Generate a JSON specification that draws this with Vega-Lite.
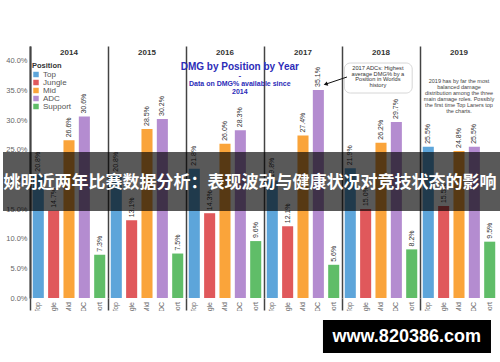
{
  "$schema": "https://vega.github.io/schema/vega-lite/v6.json",
  "width": 468,
  "height": 252,
  "autosize": {"type": "none"},
  "padding": {"left": 30, "top": 46, "right": 2, "bottom": 64},
  "background": "white",
  "config": {
    "view": {"stroke": null},
    "font": "Liberation Sans",
    "axisY": {"labelOverlap": false, "labelFlush": false, "labelBound": false, "tickCount": 9}
  },
  "data": {
    "values": [
      {"year": "2014", "position": "Top", "value": 20.8},
      {"year": "2014", "position": "Jungle", "value": 14.7},
      {"year": "2014", "position": "Mid", "value": 26.6},
      {"year": "2014", "position": "ADC", "value": 30.6},
      {"year": "2014", "position": "Support", "value": 7.3},
      {"year": "2015", "position": "Top", "value": 20.8},
      {"year": "2015", "position": "Jungle", "value": 13.1},
      {"year": "2015", "position": "Mid", "value": 28.5},
      {"year": "2015", "position": "ADC", "value": 30.2},
      {"year": "2015", "position": "Support", "value": 7.5},
      {"year": "2016", "position": "Top", "value": 21.8},
      {"year": "2016", "position": "Jungle", "value": 14.3},
      {"year": "2016", "position": "Mid", "value": 26.0},
      {"year": "2016", "position": "ADC", "value": 28.3},
      {"year": "2016", "position": "Support", "value": 9.6},
      {"year": "2017", "position": "Top", "value": 19.8},
      {"year": "2017", "position": "Jungle", "value": 12.1},
      {"year": "2017", "position": "Mid", "value": 27.4},
      {"year": "2017", "position": "ADC", "value": 35.1},
      {"year": "2017", "position": "Support", "value": 5.6},
      {"year": "2018", "position": "Top", "value": 21.9},
      {"year": "2018", "position": "Jungle", "value": 15.0},
      {"year": "2018", "position": "Mid", "value": 26.2},
      {"year": "2018", "position": "ADC", "value": 29.7},
      {"year": "2018", "position": "Support", "value": 8.2},
      {"year": "2019", "position": "Top", "value": 25.5},
      {"year": "2019", "position": "Jungle", "value": 15.5},
      {"year": "2019", "position": "Mid", "value": 24.8},
      {"year": "2019", "position": "ADC", "value": 25.5},
      {"year": "2019", "position": "Support", "value": 9.5}
    ]
  },
  "layer": [
    {
      "mark": {"type": "bar"},
      "encoding": {
        "x": {
          "field": "year", "type": "nominal",
          "scale": {"paddingInner": 0, "paddingOuter": 0},
          "axis": {"orient": "bottom", "title": null, "labels": false, "domain": false,
                   "ticks": true, "tickSize": 12, "tickColor": "#444", "tickWidth": 1.5,
                   "bandPosition": 0, "grid": true, "gridColor": "#444", "gridWidth": 1.5}
        },
        "xOffset": {
          "field": "position", "type": "nominal",
          "sort": ["Top", "Jungle", "Mid", "ADC", "Support"],
          "scale": {"paddingInner": 0.28, "paddingOuter": 0.18}
        },
        "y": {
          "field": "value", "type": "quantitative",
          "scale": {"domain": [0, 42.5], "nice": false, "zero": false},
          "axis": {"values": [0, 5, 10, 15, 20, 25, 30, 35, 40],
                   "tickCount": 9,
                   "labelExpr": "format(datum.value, '.1f') + '%'",
                   "labelOverlap": false,
                   "title": null, "ticks": false, "grid": false,
                   "domainColor": "#444", "domainWidth": 2,
                   "labelColor": "#666", "labelFontSize": 7.5, "labelPadding": 3}
        },
        "color": {
          "field": "position", "type": "nominal",
          "sort": ["Top", "Jungle", "Mid", "ADC", "Support"],
          "scale": {"domain": ["Top", "Jungle", "Mid", "ADC", "Support"],
                    "range": ["#5DA5DA", "#E0585B", "#FAA43A", "#B48CD0", "#60BD68"]},
          "legend": {"orient": "none", "legendX": 2, "legendY": 16, "title": "Position",
                     "titleFontSize": 7.5, "titleFontWeight": "bold", "titleColor": "#333",
                     "labelFontSize": 8, "labelColor": "#555", "symbolType": "square",
                     "symbolSize": 30, "rowPadding": 0, "titlePadding": 1,
                     "symbolStrokeWidth": 0, "padding": 0, "labelOffset": 3}
        }
      }
    },
    {
      "transform": [{"calculate": "format(datum.value, '.1f') + '%'", "as": "label"}],
      "mark": {"type": "text", "angle": 270, "align": "left", "baseline": "middle",
               "fontSize": 7, "fill": "#333", "yOffset": -3},
      "encoding": {
        "x": {"field": "year", "type": "nominal"},
        "xOffset": {"field": "position", "type": "nominal", "sort": ["Top", "Jungle", "Mid", "ADC", "Support"]},
        "y": {"field": "value", "type": "quantitative"},
        "text": {"field": "label"}
      }
    },
    {
      "mark": {"type": "text", "angle": 270, "align": "right", "baseline": "middle",
               "fontSize": 7, "fill": "#666", "yOffset": 4},
      "encoding": {
        "x": {"field": "year", "type": "nominal"},
        "xOffset": {"field": "position", "type": "nominal", "sort": ["Top", "Jungle", "Mid", "ADC", "Support"]},
        "y": {"datum": 0, "type": "quantitative"},
        "text": {"field": "position"}
      }
    },
    {
      "transform": [{"filter": "datum.position == 'Top'"}],
      "mark": {"type": "text", "fontSize": 8, "fontWeight": "bold", "fill": "#333", "baseline": "middle"},
      "encoding": {
        "x": {"field": "year", "type": "nominal", "bandPosition": 0.5},
        "y": {"datum": 41.3, "type": "quantitative"},
        "text": {"field": "year"}
      }
    },
    {
      "data": {"values": [{}]},
      "mark": {"type": "text", "text": "DMG by Position by Year", "fontSize": 10, "fontWeight": "bold",
               "fill": "#2c2cb8", "baseline": "middle", "align": "center"},
      "encoding": {
        "x": {"datum": "2016", "type": "nominal", "bandPosition": 0.69},
        "y": {"datum": 38.95, "type": "quantitative"}
      }
    },
    {
      "data": {"values": [{}]},
      "mark": {"type": "text", "text": "-", "fontSize": 8, "fontWeight": "bold",
               "fill": "#2c2cb8", "baseline": "middle", "align": "center"},
      "encoding": {
        "x": {"datum": "2016", "type": "nominal", "bandPosition": 0.69},
        "y": {"datum": 37.44, "type": "quantitative"}
      }
    },
    {
      "data": {"values": [{}]},
      "mark": {"type": "text", "text": ["Data on DMG% available since", "2014"], "fontSize": 7, "fontWeight": "bold",
               "fill": "#2c2cb8", "baseline": "top", "align": "center", "lineHeight": 8},
      "encoding": {
        "x": {"datum": "2016", "type": "nominal", "bandPosition": 0.69},
        "y": {"datum": 36.7, "type": "quantitative"}
      }
    },
    {
      "data": {"values": [{}]},
      "mark": {"type": "rect", "fill": "white", "stroke": "#cccccc", "strokeWidth": 0.8, "cornerRadius": 6},
      "encoding": {
        "x": {"datum": "2018", "type": "nominal", "bandPosition": 0.03},
        "x2": {"datum": "2018", "bandPosition": 0.9},
        "y": {"datum": 39.63, "type": "quantitative"},
        "y2": {"datum": 34.57}
      }
    },
    {
      "data": {"values": [{}]},
      "mark": {"type": "text", "text": ["2017 ADCs: Highest", "average DMG% by a", "Position in Worlds", "history"],
               "fontSize": 5.7, "lineHeight": 5.6, "fill": "#333", "baseline": "top", "align": "center"},
      "encoding": {
        "x": {"datum": "2018", "type": "nominal", "bandPosition": 0.46},
        "y": {"datum": 39.3, "type": "quantitative"}
      }
    },
    {
      "data": {"values": [{}]},
      "mark": {"type": "rule", "stroke": "#111", "strokeWidth": 1},
      "encoding": {
        "x": {"datum": "2018", "type": "nominal", "bandPosition": 0.064},
        "x2": {"datum": "2017", "bandPosition": 0.8},
        "y": {"datum": 37.27, "type": "quantitative"},
        "y2": {"datum": 36.1}
      }
    },
    {
      "data": {"values": [{}]},
      "mark": {"type": "point", "shape": "triangle-up", "angle": 252, "size": 22, "filled": true, "fill": "#111", "opacity": 1},
      "encoding": {
        "x": {"datum": "2017", "type": "nominal", "bandPosition": 0.79},
        "y": {"datum": 36.05, "type": "quantitative"}
      }
    },
    {
      "data": {"values": [{}]},
      "mark": {"type": "text",
               "text": ["2019 has by far the most", "balanced damage", "distribution among the three", "main damage roles. Possibly", "the first time Top Laners top", "the charts."],
               "fontSize": 5.5, "lineHeight": 6, "fill": "#444", "baseline": "top", "align": "center"},
      "encoding": {
        "x": {"datum": "2019", "type": "nominal", "bandPosition": 0.5},
        "y": {"datum": 37.0, "type": "quantitative"}
      }
    },
    {
      "data": {"values": [{}]},
      "mark": {"type": "rect", "fill": "black", "opacity": 0.65, "xOffset": -27, "x2Offset": 2},
      "encoding": {
        "x": {"datum": "2014", "type": "nominal", "bandPosition": 0},
        "x2": {"datum": "2019", "bandPosition": 1},
        "y": {"datum": 24.62, "type": "quantitative"},
        "y2": {"datum": 14.67}
      }
    },
    {
      "data": {"values": [{}]},
      "mark": {"type": "text", "text": "姚明近两年比赛数据分析：表现波动与健康状况对竞技状态的影响",
               "font": "Noto Sans CJK SC", "fontSize": 17, "fontWeight": "bold", "fill": "white",
               "align": "center", "baseline": "middle"},
      "encoding": {
        "x": {"datum": "2016", "type": "nominal", "bandPosition": 0.82},
        "y": {"datum": 19.4, "type": "quantitative"}
      }
    },
    {
      "data": {"values": [{}]},
      "mark": {"type": "rect", "fill": "white", "xOffset": -30, "x2Offset": 2},
      "encoding": {
        "x": {"datum": "2014", "type": "nominal", "bandPosition": 0},
        "x2": {"datum": "2019", "bandPosition": 1},
        "y": {"datum": -2.2, "type": "quantitative"},
        "y2": {"datum": -11}
      }
    },
    {
      "data": {"values": [{}]},
      "mark": {"type": "rect", "fill": "black"},
      "encoding": {
        "x": {"datum": "2017", "type": "nominal", "bandPosition": 0.756},
        "x2": {"datum": "2019", "bandPosition": 0.91},
        "y": {"datum": -3.71, "type": "quantitative"},
        "y2": {"datum": -9.27}
      }
    },
    {
      "data": {"values": [{}]},
      "mark": {"type": "text", "text": "www.820386.com", "font": "Liberation Sans", "fontSize": 18,
               "fontWeight": "bold", "fill": "white", "align": "center", "baseline": "middle"},
      "encoding": {
        "x": {"datum": "2018", "type": "nominal", "bandPosition": 0.83},
        "y": {"datum": -6.58, "type": "quantitative"}
      }
    }
  ]
}
